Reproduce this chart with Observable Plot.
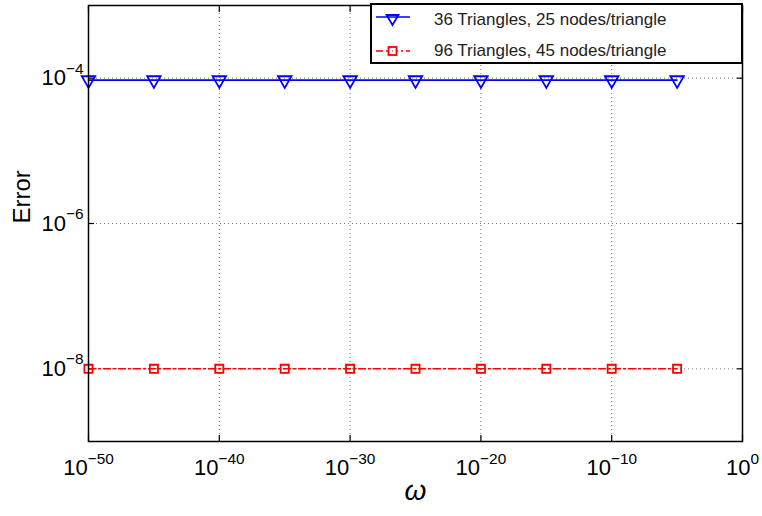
<!DOCTYPE html>
<html>
<head>
<meta charset="utf-8">
<script src="https://cdn.jsdelivr.net/npm/d3@7"></script>
<script src="https://cdn.jsdelivr.net/npm/@observablehq/plot@0.6"></script>
<style>
  html, body { margin: 0; padding: 0; background: #fff; }
  #wrap { position: relative; width: 762px; height: 516px; font-family: "Liberation Sans", Arial, sans-serif; }
  #legend { position: absolute; left: 370px; top: 3px; width: 369px; height: 57px; border: 2px solid #000; background: #fff; }
  .row { position: absolute; left: 0; height: 24px; display: flex; align-items: center; font-size: 17px; color: #222; }
  .row svg { margin-left: 3px; margin-right: 23px; }
</style>
</head>
<body>
<div id="wrap"></div>
<script>
// ---- data ----
const omega = [1e-50, 1e-45, 1e-40, 1e-35, 1e-30, 1e-25, 1e-20, 1e-15, 1e-10, 1e-5];
const err36 = [9.4e-5, 9.4e-5, 9.4e-5, 9.4e-5, 9.4e-5, 9.4e-5, 9.4e-5, 9.4e-5, 9.4e-5, 9.4e-5];
const err96 = [1.0e-8, 1.0e-8, 1.0e-8, 1.0e-8, 1.0e-8, 1.0e-8, 1.0e-8, 1.0e-8, 1.0e-8, 1.0e-8];
const seriesNames = ["36 Triangles, 25 nodes/triangle", "96 Triangles, 45 nodes/triangle"];
const xTicks = [1e-50, 1e-40, 1e-30, 1e-20, 1e-10, 1];
const yTicks = [1e-8, 1e-6, 1e-4];
const xLabel = "ω";
const yLabel = "Error";

const s36 = omega.map((w, i) => ({w, e: err36[i]}));
const s96 = omega.map((w, i) => ({w, e: err96[i]}));
const expFmt = d => "10^" + String(Math.round(Math.log10(d))).replace("-", "−");

const chart = Plot.plot({
  width: 762,
  height: 516,
  marginLeft: 88,
  marginRight: 20,
  marginTop: 5,
  marginBottom: 75,
  style: {fontFamily: "Liberation Sans, Arial, sans-serif", background: "#fff", color: "#000"},
  x: {type: "log", domain: [1e-50, 1], ticks: xTicks},
  y: {type: "log", domain: [1e-9, 1e-3], ticks: yTicks},
  marks: [
    Plot.gridX(xTicks, {stroke: "#777", strokeOpacity: 1, strokeDasharray: "1,3", strokeWidth: 1}),
    Plot.gridY(yTicks, {stroke: "#777", strokeOpacity: 1, strokeDasharray: "1,3", strokeWidth: 1}),
    Plot.axisX(xTicks, {anchor: "bottom", tickSize: 0, tickPadding: 18, tickFormat: expFmt, fontSize: 22, label: null}),
    Plot.axisY(yTicks, {anchor: "left", tickSize: 0, tickPadding: 5, tickFormat: expFmt, fontSize: 22, label: null}),
    Plot.axisX(xTicks, {anchor: "bottom", tickSize: -6, text: null, label: null, strokeWidth: 1.2}),
    Plot.axisX(xTicks, {anchor: "top", tickSize: -6, text: null, label: null, strokeWidth: 1.2}),
    Plot.axisY(yTicks, {anchor: "left", tickSize: -6, text: null, label: null, strokeWidth: 1.2}),
    Plot.axisY(yTicks, {anchor: "right", tickSize: -6, text: null, label: null, strokeWidth: 1.2}),
    Plot.line(s96, {x: "w", y: "e", stroke: "#ff0000", strokeWidth: 1.5, strokeDasharray: "7,3,2,3"}),
    Plot.dot(s96, {x: "w", y: "e", symbol: "square", r: 4.6, stroke: "#ff0000", strokeWidth: 1.8, fill: "none"}),
    Plot.line(s36, {x: "w", y: "e", stroke: "#0000ff", strokeWidth: 1.6}),
    Plot.dot(s36, {x: "w", y: "e", symbol: "triangle", rotate: 180, r: 5, stroke: "#0000ff", strokeWidth: 1.8, fill: "none"}),
    Plot.frame({stroke: "#000", strokeWidth: 1.5}),
    Plot.text([xLabel], {frameAnchor: "bottom", dy: 58, fontSize: 28, fontStyle: "italic", fill: "#000"}),
    Plot.text([yLabel], {frameAnchor: "left", dx: -66, rotate: -90, fontSize: 24, fill: "#000"})
  ]
});

// superscripts on tick labels
chart.querySelectorAll('g[aria-label$="tick label"] text').forEach(t => {
  const s = t.textContent;
  if (!s.includes("^")) return;
  const [base, sup] = s.split("^");
  t.textContent = base;
  const ts = document.createElementNS("http://www.w3.org/2000/svg", "tspan");
  ts.setAttribute("font-size", "0.7em");
  ts.setAttribute("dy", "-0.75em");
  ts.textContent = sup;
  t.appendChild(ts);
});

const wrap = document.getElementById("wrap");
wrap.appendChild(chart);

// legend
const legend = document.createElement("div");
legend.id = "legend";
const samples = [
  `<svg width="36" height="16"><line x1="1" x2="35" y1="5" y2="5" stroke="#0000ff" stroke-width="1.6"/><path d="M11.5,3 L23.5,3 L17.5,13 Z" fill="none" stroke="#0000ff" stroke-width="1.8"/></svg>`,
  `<svg width="36" height="16"><line x1="1" x2="35" y1="8" y2="8" stroke="#ff0000" stroke-width="1.5" stroke-dasharray="7,3,2,3"/><rect x="13.5" y="4" width="8" height="8" fill="#fff" stroke="#ff0000" stroke-width="1.8"/><rect x="17" y="7.5" width="1" height="1" fill="#ff0000"/></svg>`
];
seriesNames.forEach((name, i) => {
  const row = document.createElement("div");
  row.className = "row";
  row.style.top = (i === 0 ? 3 : 34) + "px";
  row.innerHTML = samples[i] + `<span>${name}</span>`;
  legend.appendChild(row);
});
wrap.appendChild(legend);
</script>
</body>
</html>
